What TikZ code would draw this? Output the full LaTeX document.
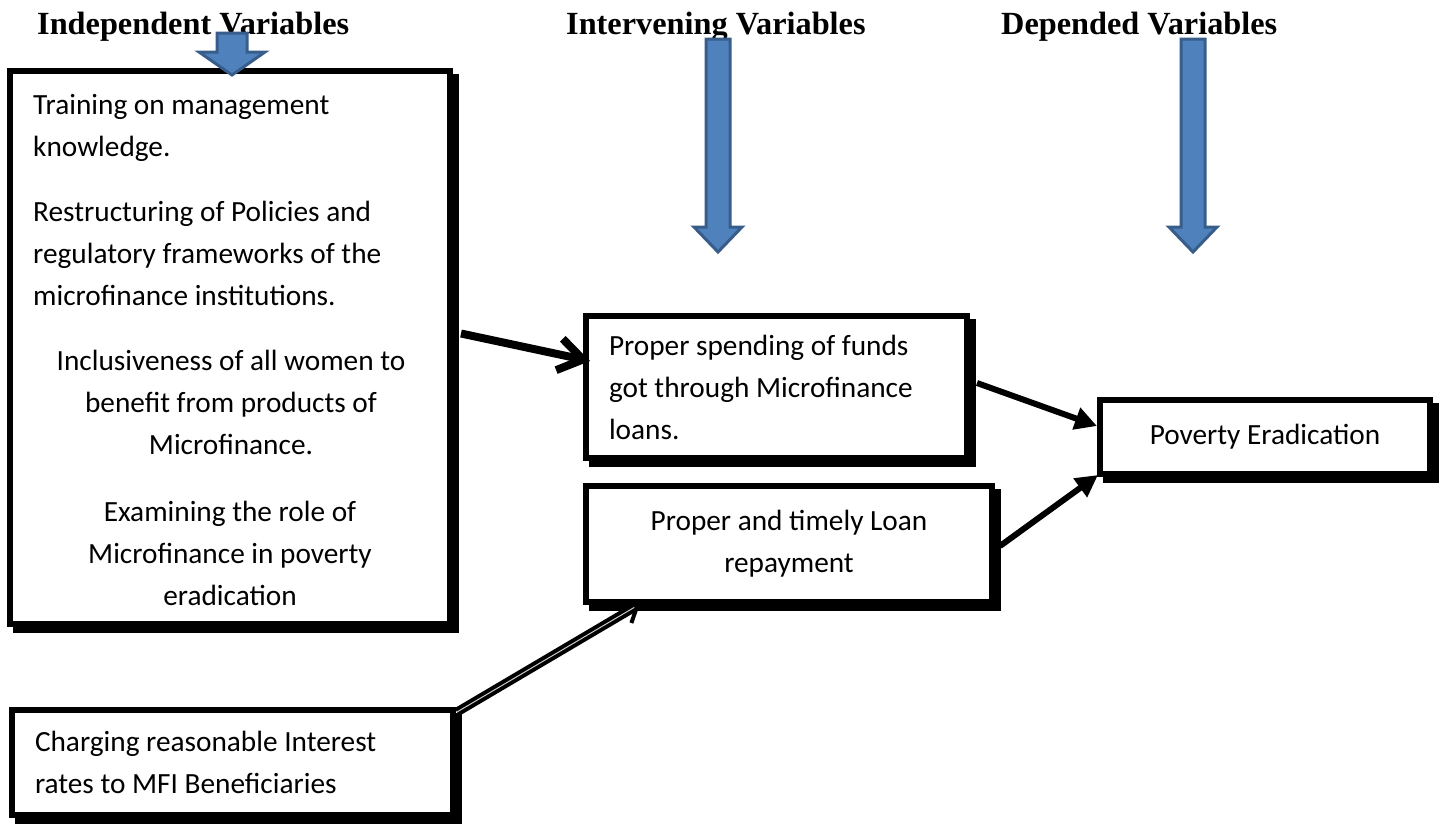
\documentclass[tikz,border=0pt]{standalone}
\usepackage{fontspec}
\setmainfont{Carlito}
\newfontfamily\headfont{Liberation Serif}
\usetikzlibrary{arrows.meta,shadows}
\definecolor{arrowfill}{HTML}{4F81BD}
\definecolor{arrowline}{HTML}{385D8A}
\begin{document}
\begin{tikzpicture}[x=1pt,y=-1pt,
  box/.style={draw=black, line width=6pt, fill=white, inner sep=0pt,
     general shadow={fill=black, draw=black, line width=6pt, shadow xshift=6pt, shadow yshift=-6pt}},
  txt/.style={font=\fontsize{29.3}{42}\selectfont, inner sep=0pt},
  head/.style={font=\headfont\bfseries\fontsize{32.3}{36}\selectfont, inner sep=0pt, anchor=base west},
  blockarrow/.style={fill=arrowfill, draw=arrowline, line width=3pt, line join=miter},
  thickconn/.style={line width=8pt, -{Straight Barb[length=24pt,width=32pt]}},
  solidconn/.style={line width=6pt, -{Triangle[length=22pt,width=22pt]}},
  dblconn/.style={line width=4pt, double=gray!40, double distance=1pt, -{Straight Barb[length=14pt,width=24pt]}}
]
\useasboundingbox (0,0) rectangle (1441,823);

% headers
\node[head] (h1) at (37,34) {Independent Variables};
\node[head] (h2) at (566,34) {Intervening Variables};
\node[head] (h3) at (1001,34) {Depended Variables};

% boxes
\node[box, minimum width=440pt, minimum height=553pt] (b1) at (230,347.5) {};
\node[box, minimum width=381pt, minimum height=142pt, txt, text width=335pt, align=flush left] (b2) at (776.5,387) {Proper spending of funds\\got through Microfinance\\loans.};
\node[box, minimum width=406pt, minimum height=116pt, txt, text width=380pt, align=flush center] (b3) at (789,544) {Proper and timely Loan\\repayment};
\node[box, minimum width=330pt, minimum height=74pt, txt] (b4) at (1265,437) {Poverty Eradication};
\node[box, minimum width=441pt, minimum height=105pt, txt, text width=395pt, align=flush left] (b5) at (232.5,762.5) {Charging reasonable Interest\\rates to MFI Beneficiaries};

% text of the first box (anchored at the baseline of the last line)
\node[txt, anchor=base west, align=flush left] (t1) at (33,156) {Training on management\\knowledge.};
\node[txt, anchor=base west, align=flush left] (t2) at (33,305) {Restructuring of Policies and\\regulatory frameworks of the\\microfinance institutions.};
\node[txt, anchor=base, align=flush center] (t3) at (231,454) {Inclusiveness of all women to\\benefit from products of\\Microfinance.};
\node[txt, anchor=base, align=flush center] (t4) at (230,605) {Examining the role of\\Microfinance in poverty\\eradication};

% connectors
\draw[thickconn] ([xshift=8pt,yshift=14pt]b1.east) -- ([xshift=7pt,yshift=26pt]b2.west);
\draw[solidconn] ([xshift=7pt,yshift=4pt]b2.east) -- ([yshift=11pt]b4.west);
\draw[solidconn] ([xshift=5pt,yshift=-2pt]b3.east) -- ([xshift=1pt,yshift=2pt]b4.south west);
\draw[dblconn] ([xshift=1pt,yshift=-5pt]b5.north east) -- ([xshift=57pt,yshift=1pt]b3.south west);

% block arrows
\draw[blockarrow] (217,33) -- (247,33) -- (247,52) -- (265,52) -- (232,75) -- (199,52) -- (217,52) -- cycle;
\draw[blockarrow] (706,39) -- (730,39) -- (730,227) -- (742,227) -- (718,252) -- (694,227) -- (706,227) -- cycle;
\draw[blockarrow] (1181,39) -- (1205,39) -- (1205,227) -- (1217,227) -- (1193,252) -- (1169,227) -- (1181,227) -- cycle;
\end{tikzpicture}
\end{document}
